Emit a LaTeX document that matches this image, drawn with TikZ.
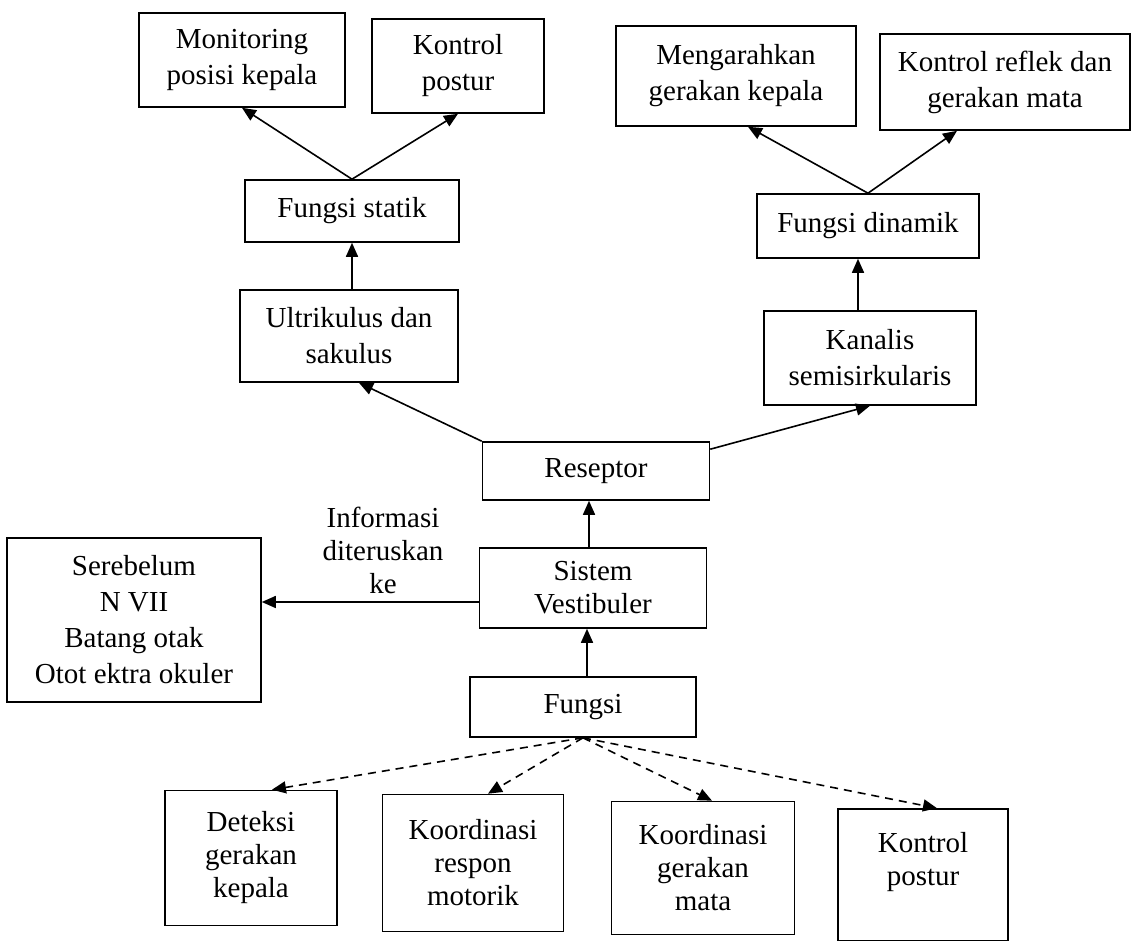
\documentclass[tikz,border=0pt]{standalone}
\usepackage{fontspec}
\setmainfont{Liberation Serif}
\usetikzlibrary{arrows.meta}

\begin{document}
\begin{tikzpicture}[
    x=0.5pt, y=-0.5pt,
    box/.style={draw,line width=0.8pt,align=center,inner sep=2pt,
                font=\fontsize{14.5}{18}\selectfont},
    lowbox/.style={box,font=\fontsize{14.5}{16.5}\selectfont},
    arr/.style={-{Triangle[length=7pt,width=6pt]},line width=0.8pt},
    darr/.style={arr,dash pattern=on 4pt off 3pt},
    lbl/.style={align=center,font=\fontsize{14.5}{16.5}\selectfont,inner sep=0pt}
]
  \useasboundingbox (0,0) rectangle (1132,941);

  % Top row
  \node[box,minimum width=103pt,minimum height=47pt] (mon) at (242,60) {Monitoring\\posisi kepala};
  \node[box,minimum width=86pt,minimum height=47pt] (kpt) at (458,66) {Kontrol\\postur};
  \node[box,minimum width=120pt,minimum height=50pt] (mgk) at (736,76) {Mengarahkan\\gerakan kepala};
  \node[box,minimum width=125pt,minimum height=48pt] (krf) at (1005,82) {Kontrol reflek dan\\gerakan mata};

  % Fungsi statik / dinamik
  \node[box,minimum width=107pt,minimum height=31pt] (fst) at (352,211) {Fungsi statik};
  \node[box,minimum width=111pt,minimum height=32pt] (fdn) at (868,226) {Fungsi dinamik};
  \node[box,minimum width=109pt,minimum height=46pt] (ult) at (349,336) {Ultrikulus dan\\sakulus};
  \node[box,minimum width=106pt,minimum height=47pt] (kan) at (870,358) {Kanalis\\semisirkularis};

  % Middle column
  \node[box,minimum width=113.5pt,minimum height=29pt] (rsp) at (596,471) {Reseptor};
  \node[lowbox,minimum width=113.5pt,minimum height=40pt] (sis) at (593,588) {Sistem\\Vestibuler};
  \node[box,minimum width=113pt,minimum height=30pt] (fgs) at (583,707) {Fungsi};
  \node[box,minimum width=127pt,minimum height=82pt] (ser) at (134,620) {Serebelum\\N VII\\Batang otak\\Otot ektra okuler};
  \node[lbl] (info) at (383,550) {Informasi\\diteruskan\\ke};

  % Bottom row
  \node[lowbox,minimum width=86pt,minimum height=67.5pt] (det) at (251,858) {Deteksi\\gerakan\\kepala};
  \node[lowbox,minimum width=90.5pt,minimum height=68.5pt] (kor) at (473,863) {Koordinasi\\respon\\motorik};
  \node[lowbox,minimum width=91.5pt,minimum height=66.5pt] (kog) at (703,868) {Koordinasi\\gerakan\\mata};
  \node[lowbox,minimum width=85pt,minimum height=66pt] (kps) at (923,875) {Kontrol\\postur\\~};

  % Arrows
  \draw[arr] (fst.north) -- (mon.south);
  \draw[arr] (fst.north) -- (kpt.south);
  \draw[arr] (fdn.north) -- ([xshift=6pt]mgk.south);
  \draw[arr] (fdn.north) -- ([xshift=-24pt]krf.south);
  \draw[arr] (fst.south |- ult.north) -- (fst.south);
  \draw[arr] ([xshift=-5pt]fdn.south |- kan.north) -- ([xshift=-5pt]fdn.south);
  \draw[arr] (rsp.north west) -- ([xshift=5pt]ult.south);
  \draw[arr] ([yshift=-4pt]rsp.north east) -- (kan.south);
  \draw[arr] ([xshift=-2pt]sis.north) -- ([xshift=-2pt]sis.north |- rsp.south);
  \draw[arr] ([xshift=2pt]fgs.north) -- ([xshift=2pt]fgs.north |- sis.south);
  \draw[arr] ([yshift=-7pt]sis.west) -- ([yshift=-7pt]sis.west -| ser.east);

  % Dashed arrows
  \draw[darr] (fgs.south) -- ([xshift=10.5pt]det.north);
  \draw[darr] (fgs.south) -- ([xshift=7.5pt]kor.north);
  \draw[darr] (fgs.south) -- ([xshift=4.5pt]kog.north);
  \draw[darr] (fgs.south) -- ([xshift=7pt]kps.north);
\end{tikzpicture}
\end{document}
